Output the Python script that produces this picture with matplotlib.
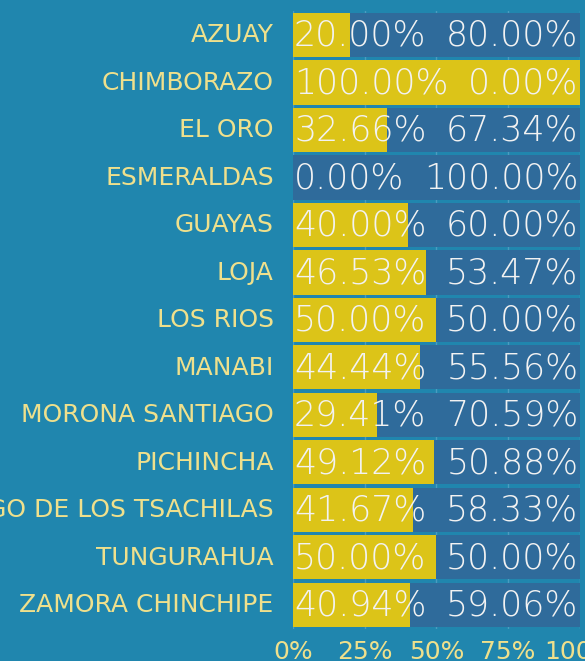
import matplotlib.pyplot as plt

provinces = ["AZUAY", "CHIMBORAZO", "EL ORO", "ESMERALDAS", "GUAYAS", "LOJA",
             "LOS RIOS", "MANABI", "MORONA SANTIAGO", "PICHINCHA",
             "SANTO DOMINGO DE LOS TSACHILAS", "TUNGURAHUA", "ZAMORA CHINCHIPE"]
pct_yes = [20.00, 100.00, 32.66, 0.00, 40.00, 46.53, 50.00, 44.44, 29.41, 49.12, 41.67, 50.00, 40.94]
pct_no = [80.00, 0.00, 67.34, 100.00, 60.00, 53.47, 50.00, 55.56, 70.59, 50.88, 58.33, 50.00, 59.06]
tick_vals = [0, 25, 50, 75, 100]

bg = "#2086ae"
yellow = "#dcc418"
blue = "#2f6b9b"
label_col = "#efe08c"
value_col = "#f2f2f2"

fig = plt.figure(figsize=(5.85, 6.61), dpi=100, facecolor=bg)
ax = fig.add_axes([0.501, 0.049, 0.49, 0.934], facecolor=bg)

y = list(range(len(provinces)))
ax.barh(y, pct_yes, height=0.93, color=yellow, zorder=2)
ax.barh(y, pct_no, left=pct_yes, height=0.93, color=blue, zorder=2)

for i in y:
    ax.text(0.3, i + 0.02, "%.2f%%" % pct_yes[i], ha="left", va="center", color=value_col,
            fontsize=25, fontweight="light", zorder=3)
    ax.text(99.5, i + 0.02, "%.2f%%" % pct_no[i], ha="right", va="center", color=value_col,
            fontsize=25, fontweight="light", zorder=3)

ax.set_xlim(0, 100)
ax.set_ylim(len(provinces) - 0.5, -0.5)
ax.set_yticks([v - 0.05 for v in y])
ax.set_yticklabels(provinces)
ax.set_xticks(tick_vals)
ax.set_xticklabels(["%d%%" % v for v in tick_vals])
ax.tick_params(axis="y", length=0, pad=14, labelsize=18, labelcolor=label_col)
ax.tick_params(axis="x", length=0, pad=8, labelsize=18, labelcolor=label_col)
ax.xaxis.grid(True, color="#4a9cc0", linewidth=1, zorder=0)
ax.set_axisbelow(True)
for s in ax.spines.values():
    s.set_visible(False)

fig.savefig("out.png", dpi=100, facecolor=bg)
